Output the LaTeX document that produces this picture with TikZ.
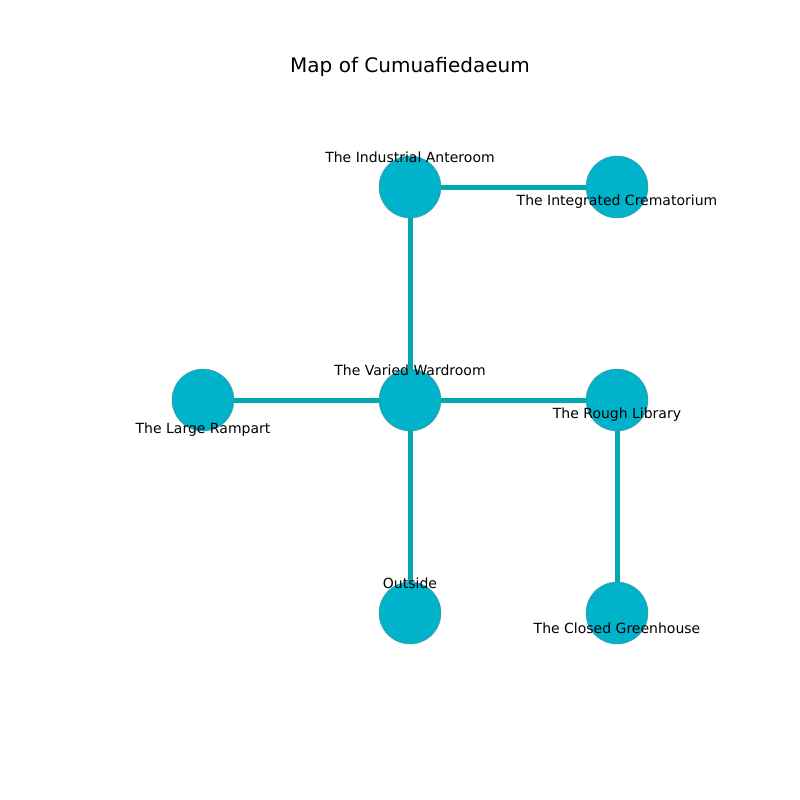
\documentclass[tikz,border=0pt]{standalone}
\usepackage{fontspec}
\setmainfont{DejaVu Sans}
\definecolor{nodefill}{HTML}{00B2CA}
\definecolor{edgecol}{HTML}{00A9AC}
\begin{document}
\begin{tikzpicture}[x=0.75pt,y=-0.75pt,
  room/.style={circle,fill=nodefill,draw=gray!70!nodefill,line width=0.3pt,minimum size=46.5pt,inner sep=0pt},
  link/.style={edgecol,line width=3.75pt},
  lbl/.style={font=\fontsize{10.5}{12}\selectfont,inner sep=0pt,text=black}]
\useasboundingbox (0,0) rectangle (800,800);
\node[font=\fontsize{15}{18}\selectfont] (title) at (410,67) {Map of Cumuafiedaeum};
\node[room] (ia) at (410,187) {};
\node[room] (ic) at (617,187) {};
\node[room] (lr) at (203,400) {};
\node[room] (vw) at (410,400) {};
\node[room] (rl) at (617,400) {};
\node[room] (out) at (410,613) {};
\node[room] (cg) at (617,613) {};
\draw[link] (ia) -- (ic);
\draw[link] (ia) -- (vw);
\draw[link] (lr) -- (vw);
\draw[link] (vw) -- (rl);
\draw[link] (vw) -- (out);
\draw[link] (rl) -- (cg);
\node[lbl] (l1) at (410,157) {The Industrial Anteroom};
\node[lbl] (l2) at (617,202) {The Integrated Crematorium};
\node[lbl] (l3) at (410,370) {The Varied Wardroom};
\node[lbl] (l4) at (203,430) {The Large Rampart};
\node[lbl] (l5) at (617,415) {The Rough Library};
\node[lbl] (l6) at (410,583) {Outside};
\node[lbl] (l7) at (617,628) {The Closed Greenhouse};
\end{tikzpicture}
\end{document}
